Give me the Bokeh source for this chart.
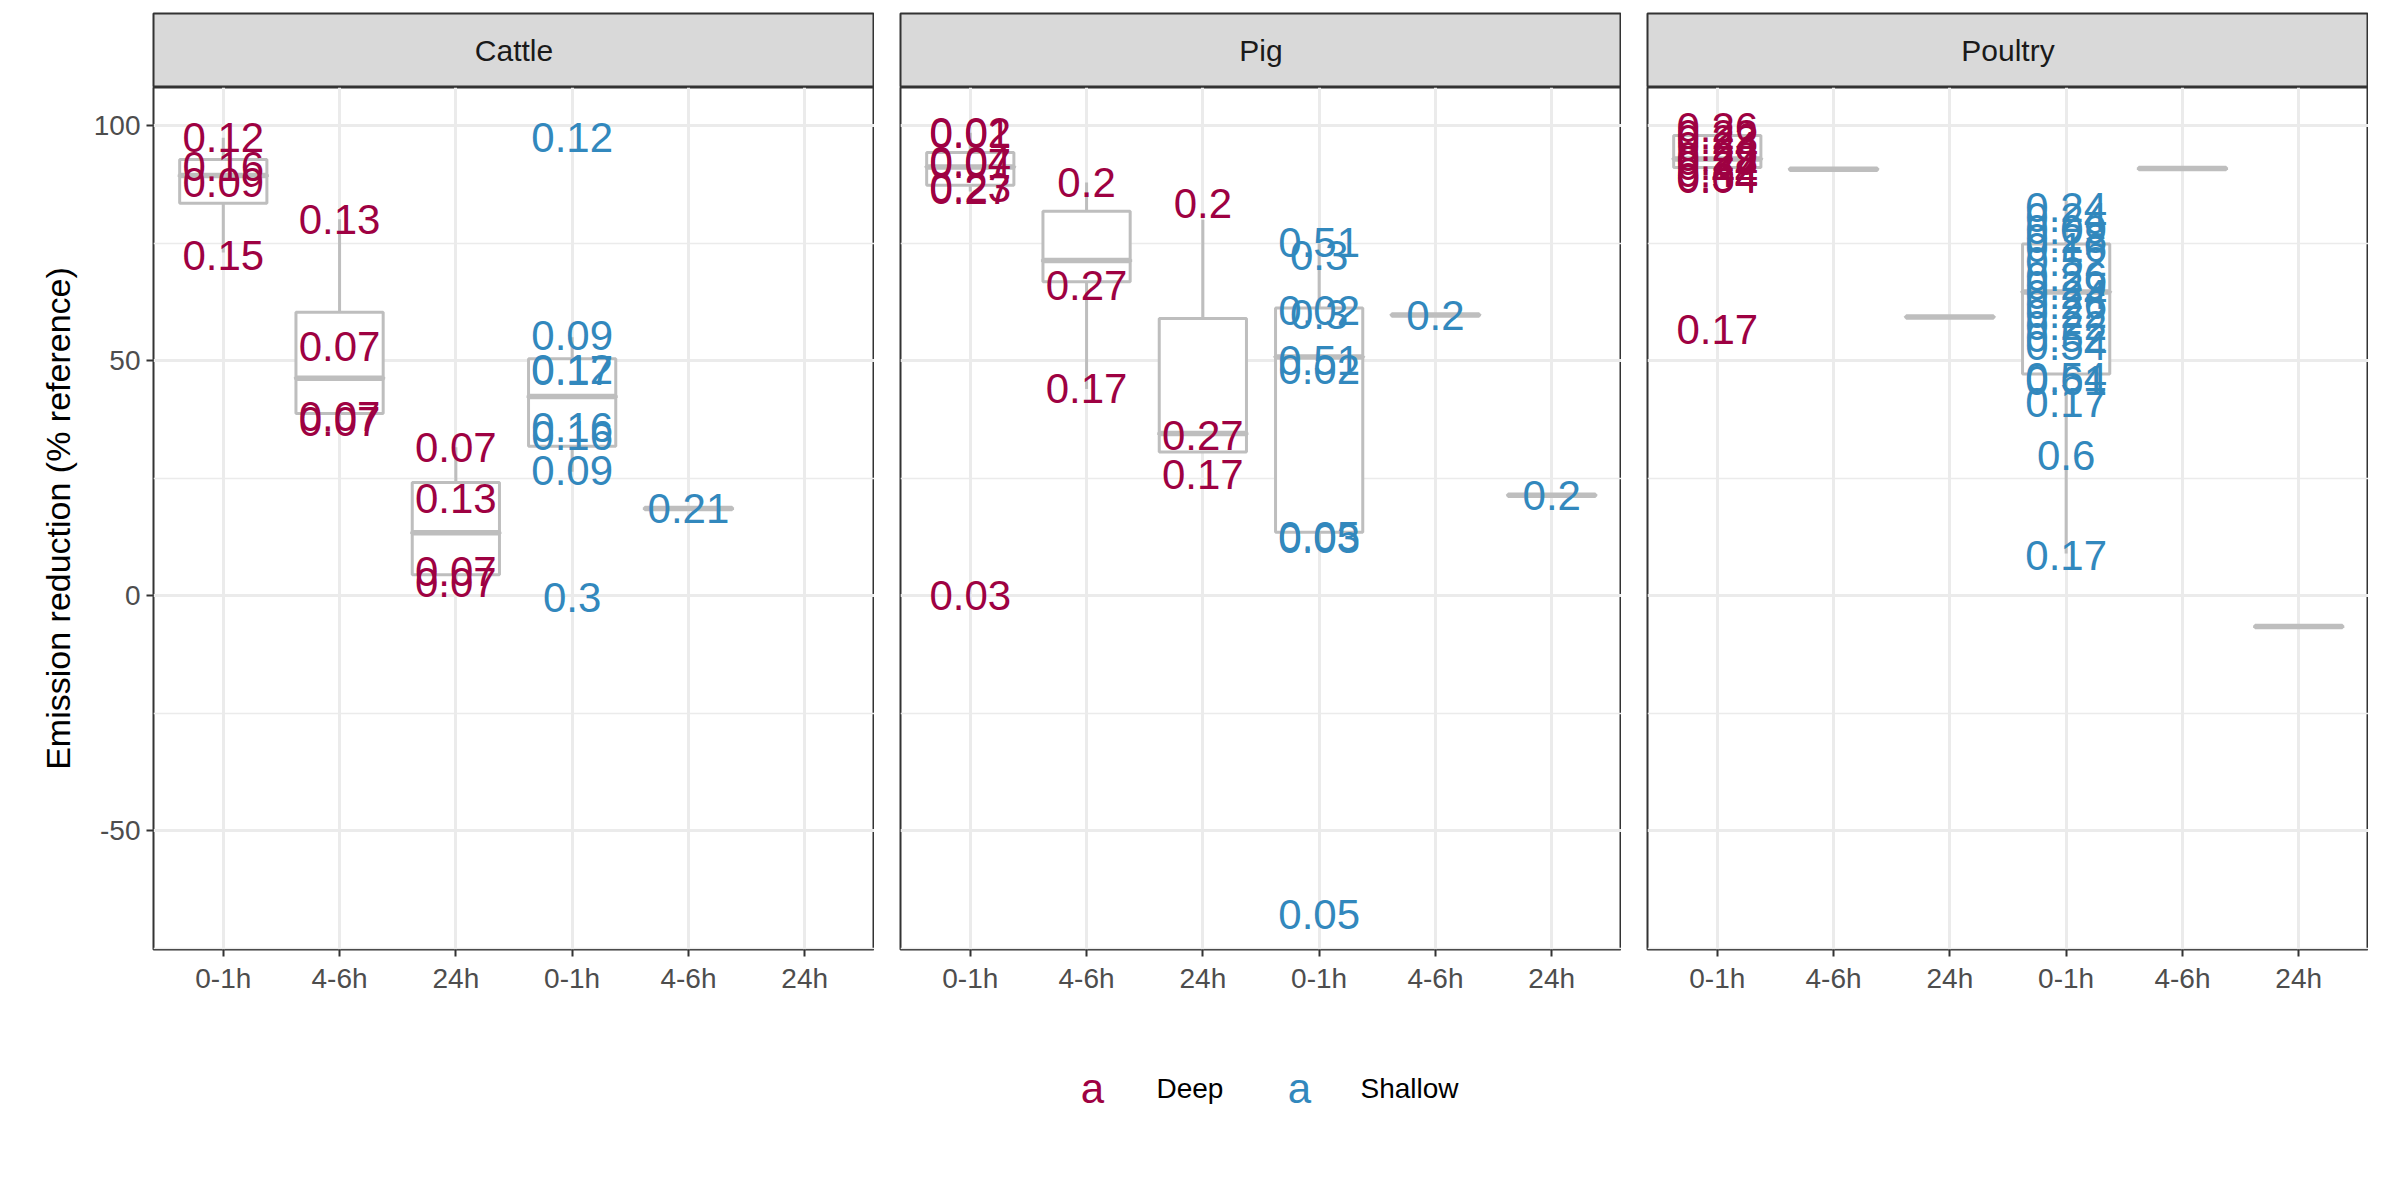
from bokeh.plotting import figure
from bokeh.layouts import column, row
from bokeh.models import Range1d, FixedTicker
from bokeh.core.properties import value
from bokeh.embed import file_html
from bokeh.resources import INLINE

panels = ["Cattle", "Pig", "Poultry"]
time_labels = ["0-1h", "4-6h", "24h", "0-1h", "4-6h", "24h"]
depths = ["Deep", "Deep", "Deep", "Shallow", "Shallow", "Shallow"]
colors = {"Deep": "#9E0142", "Shallow": "#3288BD"}

# box stats per panel, positions 1..6 (None = no data)
box_low = {
    "Cattle": [73.0, 37.1, 2.9, 26.4, 18.6, None],
    "Pig": [86.0, 44.0, 30.6, 11.0, 59.7, 21.4],
    "Poultry": [88.6, 90.7, 59.3, 9.0, 90.9, -6.5],
}
box_q1 = {
    "Cattle": [83.5, 38.8, 4.5, 31.8, 18.6, None],
    "Pig": [87.3, 66.8, 30.6, 13.5, 59.7, 21.4],
    "Poultry": [91.1, 90.7, 59.3, 47.2, 90.9, -6.5],
}
box_med = {
    "Cattle": [89.4, 46.3, 13.4, 42.4, 18.6, None],
    "Pig": [91.2, 71.3, 34.5, 50.8, 59.7, 21.4],
    "Poultry": [92.9, 90.7, 59.3, 64.6, 90.9, -6.5],
}
box_q3 = {
    "Cattle": [92.8, 60.3, 24.1, 50.4, 18.6, None],
    "Pig": [94.3, 81.8, 59.0, 61.2, 59.7, 21.4],
    "Poultry": [97.9, 90.7, 59.3, 74.8, 90.9, -6.5],
}
box_high = {
    "Cattle": [97.4, 80.1, 31.6, 55.0, 18.6, None],
    "Pig": [98.5, 87.9, 80.0, 75.0, 59.7, 21.4],
    "Poultry": [100.0, 90.7, 59.3, 84.0, 90.9, -6.5],
}

# labelled points
cattle_x = [1, 1, 1, 1, 2, 2, 2, 2, 3, 3, 3, 3, 4, 4, 4, 4, 4, 4, 4, 4, 5]
cattle_y = [97.4, 91.3, 87.8, 72.3, 80.1, 53.1, 38.1, 37.1, 31.6, 20.8, 5.2, 2.9,
            97.4, 55.4, 48.1, 47.9, 35.8, 34.2, 26.7, -0.3, 18.6]
cattle_txt = ["0.12", "0.16", "0.09", "0.15", "0.13", "0.07", "0.07", "0.07", "0.07", "0.13", "0.07", "0.07",
              "0.12", "0.09", "0.12", "0.17", "0.16", "0.16", "0.09", "0.3", "0.21"]

pig_x = [1, 1, 1, 1, 1, 1, 1, 2, 2, 2, 3, 3, 3, 4, 4, 4, 4, 4, 4, 4, 4, 4, 5, 6]
pig_y = [98.6, 98.3, 92.3, 92.0, 86.8, 86.5, 0.0, 87.9, 66.1, 44.0, 83.4, 34.2, 25.9,
         75.2, 72.3, 60.6, 59.9, 50.1, 48.2, 12.7, 12.2, -67.8, 59.7, 21.4]
pig_txt = ["0.02", "0.01", "0.04", "0.07", "0.23", "0.27", "0.03", "0.2", "0.27", "0.17", "0.2", "0.27", "0.17",
           "0.51", "0.3", "0.02", "0.3", "0.51", "0.02", "0.05", "0.03", "0.05", "0.2", "0.2"]

poultry_x = [1] * 11 + [4] * 19
poultry_y = [99.5, 98.0, 97.0, 95.5, 93.5, 92.5, 91.5, 90.0, 89.0, 88.8, 56.7,
             82.6, 80.5, 78.0, 76.0, 74.0, 71.0, 68.0, 66.0, 64.0, 62.0, 60.0, 57.5, 55.0, 53.2,
             46.5, 45.8, 41.2, 29.8, 8.6]
poultry_txt = ["0.26", "0.22", "0.23", "0.24", "0.29", "0.28", "0.24", "0.44", "0.34", "0.04", "0.17",
               "0.24", "0.24", "0.09", "0.28", "0.16", "0.52", "0.26", "0.29", "0.24", "0.26", "0.22",
               "0.22", "0.52", "0.54", "0.54", "0.61", "0.17", "0.6", "0.17"]

points = {
    "Cattle": (cattle_x, cattle_y, cattle_txt),
    "Pig": (pig_x, pig_y, pig_txt),
    "Poultry": (poultry_x, poultry_y, poultry_txt),
}

FONT = "Liberation Sans"
GREY = "#BEBEBE"
cols = []
for k, name in enumerate(panels):
    left = 153 if k == 0 else 26

    # facet strip
    s = figure(frame_width=721, frame_height=74, output_backend="svg", toolbar_location=None,
               x_range=Range1d(0, 1), y_range=Range1d(0, 1), min_border_left=left,
               min_border_right=0, min_border_top=13 if k == 0 else 13, min_border_bottom=0)
    s.axis.visible = False
    s.grid.visible = False
    s.background_fill_color = "#D9D9D9"
    s.outline_line_color = "#333333"
    s.outline_line_width = 2
    s.text([0.5], [0.5], text=[name], text_font=value(FONT), text_font_size="30px",
           text_color="#1A1A1A", text_align="center", text_baseline="middle")

    p = figure(frame_width=721, frame_height=862, output_backend="svg", toolbar_location=None,
               x_range=Range1d(0.4, 6.6), y_range=Range1d(-75.2, 108.1),
               min_border_left=left, min_border_right=0, min_border_top=0,
               min_border_bottom=20)
    p.outline_line_color = "#333333"
    p.outline_line_width = 2

    p.xaxis.ticker = FixedTicker(ticks=[1, 2, 3, 4, 5, 6])
    p.xaxis.major_label_overrides = {i + 1: t for i, t in enumerate(time_labels)}
    p.yaxis.ticker = FixedTicker(ticks=[-50, 0, 50, 100], minor_ticks=[-75, -25, 25, 75])
    p.yaxis.major_label_overrides = {-50: "-50"}
    for ax in p.xaxis + p.yaxis:
        ax.axis_line_color = None
        ax.major_tick_line_color = "#333333"
        ax.major_tick_line_width = 2
        ax.major_tick_out = 7
        ax.major_tick_in = 0
        ax.minor_tick_line_color = None
        ax.major_label_text_font = FONT
        ax.major_label_text_font_size = "28px"
        ax.major_label_text_color = "#4D4D4D"
        ax.major_label_standoff = 6
    if k == 0:
        p.yaxis.axis_label = "Emission reduction (% reference)"
        p.yaxis.axis_label_text_font = FONT
        p.yaxis.axis_label_text_font_size = "34px"
        p.yaxis.axis_label_text_font_style = "normal"
        p.yaxis.axis_label_text_color = "black"
        p.yaxis.axis_label_standoff = 14
    else:
        p.yaxis.visible = False

    p.xgrid.grid_line_color = "#EBEBEB"
    p.xgrid.grid_line_width = 3
    p.ygrid.grid_line_color = "#EBEBEB"
    p.ygrid.grid_line_width = 3
    p.ygrid.minor_grid_line_color = "#EBEBEB"
    p.ygrid.minor_grid_line_width = 1.5

    xs, lo, q1, md, q3, hi = [], [], [], [], [], []
    for i in range(6):
        if box_med[name][i] is None:
            continue
        xs.append(i + 1)
        lo.append(box_low[name][i]); q1.append(box_q1[name][i]); md.append(box_med[name][i])
        q3.append(box_q3[name][i]); hi.append(box_high[name][i])
    w = 0.75
    p.segment(xs, q3, xs, hi, line_color=GREY, line_width=3)
    p.segment(xs, lo, xs, q1, line_color=GREY, line_width=3)
    p.vbar(x=xs, bottom=q1, top=q3, width=w, fill_color="white", line_color=GREY, line_width=3)
    p.rect(x=xs, y=md, width=w, height=1.5, height_units="screen", fill_color=GREY,
           line_color=GREY, line_width=4)

    px, py, pt = points[name]
    pc = [colors[depths[x - 1]] for x in px]
    p.text(px, py, text=pt, text_color=pc, text_font=value(FONT), text_font_size="42px",
           text_align="center", text_baseline="middle")
    cols.append(column(s, p, spacing=0))

# legend strip
leg = figure(width=2368, height=150, output_backend="svg", toolbar_location=None,
             x_range=Range1d(0, 2368), y_range=Range1d(0, 150), min_border=0)
leg.axis.visible = False
leg.grid.visible = False
leg.outline_line_color = None
leg_names = ["Deep", "Shallow"]
leg_key_x = [1092, 1299]
leg_lab_x = [1156, 1360]
leg.text(leg_key_x, [58, 58], text=["a", "a"], text_color=[colors[n] for n in leg_names],
         text_font=value(FONT), text_font_size="42px", text_align="center", text_baseline="middle")
leg.text(leg_lab_x, [58, 58], text=leg_names, text_color="black", text_font=value(FONT),
         text_font_size="28px", text_align="left", text_baseline="middle")

layout = column(row(*cols, spacing=0), leg, spacing=0)
open("out.html", "w").write(file_html(layout, INLINE))
